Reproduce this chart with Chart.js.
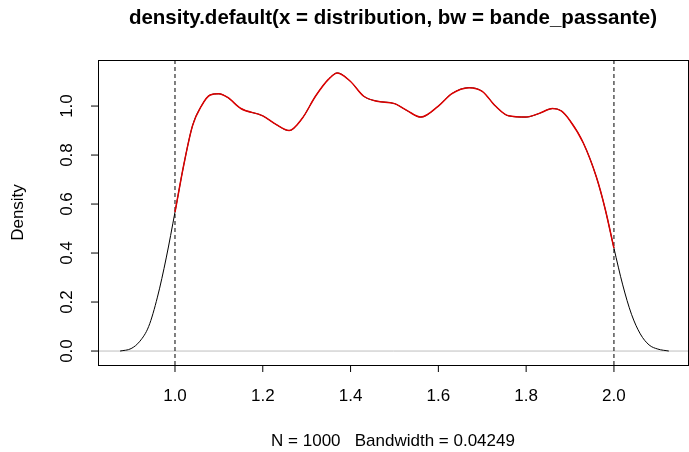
<!DOCTYPE html>
<html>
<head>
<meta charset="utf-8">
<script src="https://cdn.jsdelivr.net/npm/chart.js@4/dist/chart.umd.min.js"></script>
<style>
  html, body { margin: 0; padding: 0; background: #fff; }
  #wrap { width: 689px; height: 452px; }
</style>
</head>
<body>
<div id="wrap"><canvas id="c"></canvas></div>
<script>
// density estimate
const densX = [0.875, 0.90, 0.92, 0.94, 0.96, 0.98, 1.00, 1.02, 1.04, 1.06, 1.08, 1.10, 1.12, 1.15,
  1.20, 1.23, 1.26, 1.29, 1.32, 1.35, 1.37, 1.40, 1.43, 1.46, 1.50, 1.53, 1.56, 1.60, 1.63, 1.67,
  1.70, 1.73, 1.76, 1.80, 1.83, 1.86, 1.88, 1.90, 1.93, 1.96, 1.98, 2.00, 2.02, 2.04, 2.06, 2.08,
  2.10, 2.125];
const densY = [0.0, 0.01, 0.04, 0.10, 0.22, 0.38, 0.567, 0.76, 0.92, 1.00, 1.045, 1.05, 1.035, 0.99,
  0.96, 0.925, 0.90, 0.95, 1.04, 1.11, 1.135, 1.10, 1.04, 1.02, 1.01, 0.98, 0.955, 1.00, 1.05, 1.075,
  1.06, 1.00, 0.96, 0.955, 0.97, 0.99, 0.98, 0.94, 0.85, 0.71, 0.58, 0.42, 0.27, 0.15, 0.07, 0.025,
  0.008, 0.0];
const xTicks = [1.0, 1.2, 1.4, 1.6, 1.8, 2.0];
const yTicks = [0.0, 0.2, 0.4, 0.6, 0.8, 1.0];
const bounds = [1.0, 2.0];

const allPts = densX.map((x, i) => ({ x: x, y: densY[i] }));
const redPts = allPts.filter(p => p.x >= bounds[0] && p.x <= bounds[1]);

const rAxes = {
  id: 'rAxes',
  beforeDatasetsDraw(chart) {
    const { ctx, chartArea: a, scales: { x, y } } = chart;
    ctx.save();
    // grey zero line
    ctx.strokeStyle = '#bebebe';
    ctx.lineWidth = 1;
    ctx.beginPath();
    ctx.moveTo(a.left, y.getPixelForValue(0));
    ctx.lineTo(a.right, y.getPixelForValue(0));
    ctx.stroke();
    // dashed bounds
    ctx.strokeStyle = '#000';
    ctx.setLineDash([4, 3]);
    bounds.forEach(b => {
      const px = x.getPixelForValue(b);
      ctx.beginPath();
      ctx.moveTo(px, a.top);
      ctx.lineTo(px, a.bottom);
      ctx.stroke();
    });
    ctx.restore();
  },
  afterDraw(chart) {
    const { ctx, chartArea: a, scales: { x, y } } = chart;
    ctx.save();
    ctx.strokeStyle = '#000';
    ctx.lineWidth = 1;
    ctx.strokeRect(a.left + 0.5, a.top + 0.5, a.right - a.left - 1, a.bottom - a.top);
    ctx.fillStyle = '#000';
    ctx.font = '17px "Liberation Sans", Arial, sans-serif';
    // x axis
    ctx.textAlign = 'center';
    ctx.textBaseline = 'middle';
    xTicks.forEach(t => {
      const px = x.getPixelForValue(t);
      ctx.beginPath();
      ctx.moveTo(px, a.bottom);
      ctx.lineTo(px, a.bottom + 7);
      ctx.stroke();
      ctx.fillText(t.toFixed(1), px, a.bottom + 31);
    });
    // y axis
    yTicks.forEach(t => {
      const py = y.getPixelForValue(t);
      ctx.beginPath();
      ctx.moveTo(a.left, py);
      ctx.lineTo(a.left - 7, py);
      ctx.stroke();
      ctx.save();
      ctx.translate(a.left - 31, py);
      ctx.rotate(-Math.PI / 2);
      ctx.fillText(t.toFixed(1), 0, 0);
      ctx.restore();
    });
    // titles
    ctx.save();
    ctx.translate(18, (a.top + a.bottom) / 2);
    ctx.rotate(-Math.PI / 2);
    ctx.fillText('Density', 0, 0);
    ctx.restore();
    const cx = 393;
    ctx.fillText('N = 1000   Bandwidth = 0.04249', cx, 441);
    ctx.font = 'bold 20.5px "Liberation Sans", Arial, sans-serif';
    ctx.fillText('density.default(x = distribution, bw = bande_passante)', cx, 18);
    ctx.restore();
  }
};

new Chart(document.getElementById('c'), {
  type: 'line',
  data: {
    datasets: [
      { data: redPts, borderColor: '#dd0000', borderWidth: 1.5, pointRadius: 0, tension: 0.4, cubicInterpolationMode: 'monotone' },
      { data: allPts, borderColor: '#000', borderWidth: 1, pointRadius: 0, tension: 0.4, cubicInterpolationMode: 'monotone' }
    ]
  },
  options: {
    responsive: true,
    maintainAspectRatio: false,
    animation: false,
    layout: { padding: { left: 98, top: 60, right: 0, bottom: 87 } },
    plugins: { legend: { display: false }, tooltip: { enabled: false } },
    scales: {
      x: { type: 'linear', display: false, min: 0.8246, max: 2.171 },
      y: { type: 'linear', display: false, min: -0.057, max: 1.188 }
    }
  },
  plugins: [rAxes]
});
</script>
</body>
</html>
